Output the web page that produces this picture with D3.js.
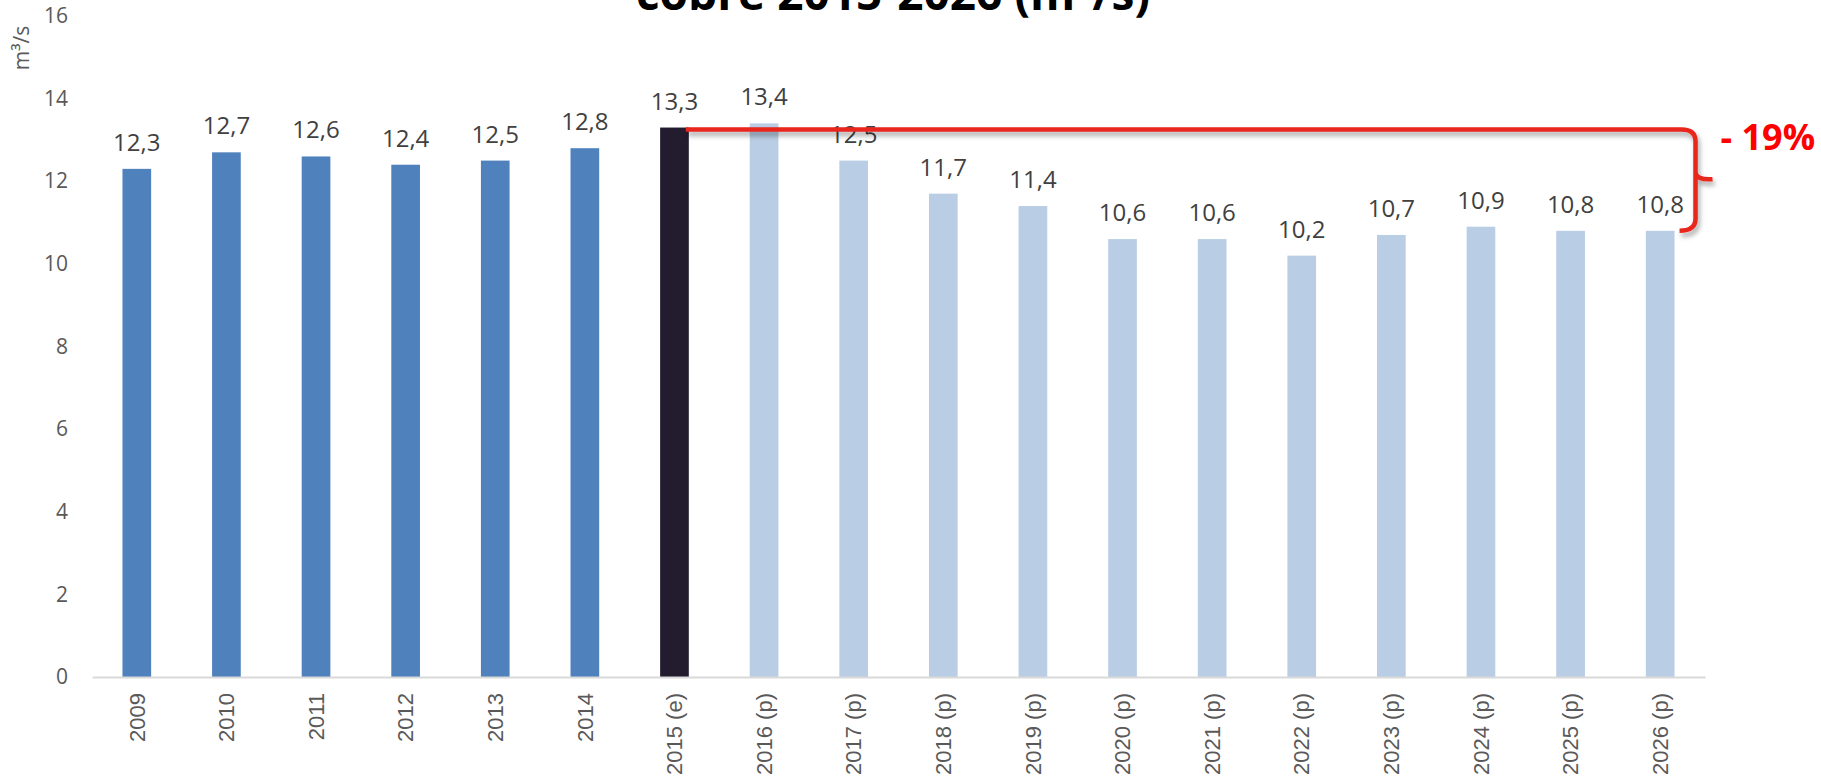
<!DOCTYPE html>
<html>
<head>
<meta charset="utf-8">
<script src="https://cdn.jsdelivr.net/npm/d3@7"></script>
<style>
  html, body { margin: 0; padding: 0; background: #fff; }
  svg { display: block; }
</style>
</head>
<body>
<svg id="chart" width="1821" height="776"></svg>
<script>
// chart data
const categories = ['2009', '2010', '2011', '2012', '2013', '2014', '2015 (e)',
  '2016 (p)', '2017 (p)', '2018 (p)', '2019 (p)', '2020 (p)', '2021 (p)',
  '2022 (p)', '2023 (p)', '2024 (p)', '2025 (p)', '2026 (p)']
const values = [12.3, 12.7, 12.6, 12.4, 12.5, 12.8, 13.3, 13.4, 12.5, 11.7,
  11.4, 10.6, 10.6, 10.2, 10.7, 10.9, 10.8, 10.8]
const kinds = ['hist', 'hist', 'hist', 'hist', 'hist', 'hist', 'est',
  'proj', 'proj', 'proj', 'proj', 'proj', 'proj', 'proj', 'proj', 'proj', 'proj', 'proj']
const yTicks = [0, 2, 4, 6, 8, 10, 12, 14, 16]
const titleText = 'cobre 2015-2026 (m³/s)'
const yLabel = 'm³/s'

const colors = { hist: '#4F81BD', est: '#231B2E', proj: '#B9CDE5' }
const rows = categories.map((c, i) => ({ cat: c, value: values[i], kind: kinds[i] }))

const svg = d3.select('#chart')
const fmt = d3.formatLocale({ decimal: ',', thousands: '.', grouping: [3], currency: ['', ''] }).format('.1f')

const x = d3.scaleBand()
  .domain(categories)
  .range([92, 1705])
  .paddingInner(0.68)
  .paddingOuter(0.34)

const y = d3.scaleLinear()
  .domain([0, 16])
  .range([677, 16])

// shadow for the red bracket
const defs = svg.append('defs')
const f = defs.append('filter').attr('id', 'shadow')
  .attr('x', '-5%').attr('y', '-50%').attr('width', '110%').attr('height', '200%')
f.append('feDropShadow')
  .attr('dx', 2).attr('dy', 4).attr('stdDeviation', 2.5)
  .attr('flood-color', '#000').attr('flood-opacity', 0.35)

// title (only the lower part is inside the picture, as in the original)
svg.append('text')
  .attr('x', 893).attr('y', 10)
  .attr('text-anchor', 'middle')
  .attr('font-family', '"Open Sans", sans-serif')
  .attr('font-weight', 'bold')
  .attr('font-size', 46)
  .attr('fill', '#000')
  .text(titleText)

// y axis
const yAxis = svg.append('g')
  .attr('transform', 'translate(72,0)')
  .call(d3.axisLeft(y).tickValues(yTicks).tickSize(0).tickPadding(4).tickFormat(d3.format('d')))
yAxis.select('.domain').remove()
yAxis.selectAll('text')
  .attr('font-family', '"Open Sans", sans-serif')
  .attr('font-size', 21)
  .attr('fill', '#595959')

svg.append('text')
  .attr('transform', 'translate(22,48) rotate(-90)')
  .attr('text-anchor', 'middle')
  .attr('dy', '0.35em')
  .attr('font-family', '"Open Sans", sans-serif')
  .attr('font-size', 21)
  .attr('fill', '#595959')
  .text(yLabel)

// bars
svg.append('g')
  .selectAll('rect')
  .data(rows)
  .join('rect')
  .attr('x', d => x(d.cat))
  .attr('y', d => y(d.value))
  .attr('width', x.bandwidth())
  .attr('height', d => y(0) - y(d.value))
  .attr('fill', d => colors[d.kind])

// x axis
const xAxis = svg.append('g')
  .attr('transform', `translate(0,${y(0)})`)
  .call(d3.axisBottom(x).tickSize(0).tickSizeOuter(0))
xAxis.select('.domain')
  .attr('stroke', '#D9D9D9')
  .attr('stroke-width', 2)
xAxis.selectAll('text')
  .attr('transform', 'rotate(-90)')
  .attr('x', -16)
  .attr('y', 0)
  .attr('dy', '0.35em')
  .style('text-anchor', 'end')
  .attr('font-family', '"Liberation Sans", Arial, sans-serif')
  .attr('font-size', 22)
  .attr('fill', '#595959')

// data labels
svg.append('g')
  .selectAll('text')
  .data(rows)
  .join('text')
  .attr('x', d => x(d.cat) + x.bandwidth() / 2)
  .attr('y', d => y(d.value) - 18)
  .attr('text-anchor', 'middle')
  .attr('font-family', '"Open Sans", sans-serif')
  .attr('font-size', 24)
  .attr('fill', '#404040')
  .text(d => fmt(d.value))

// red bracket: 2015 (e) vs 2026 (p)
const startRow = rows[6]
const endRow = rows[rows.length - 1]
const x0 = x(startRow.cat) + x.bandwidth() - 3
const xr = x(endRow.cat) + x.bandwidth() + 21
const yt = y(startRow.value) + 2
const yb = y(endRow.value)
const ym = (yt + yb) / 2

const p = d3.path()
p.moveTo(x0, yt)
p.lineTo(xr - 14, yt)
p.quadraticCurveTo(xr, yt, xr, yt + 12)
p.lineTo(xr, ym - 8)
p.quadraticCurveTo(xr, ym, xr + 17, ym - 1)
p.moveTo(xr, ym - 8)
p.quadraticCurveTo(xr, ym, xr, ym + 8)
p.lineTo(xr, yb - 12)
p.quadraticCurveTo(xr, yb, xr - 16, yb)

svg.append('path')
  .attr('d', p.toString())
  .attr('fill', 'none')
  .attr('stroke', '#E8251F')
  .attr('stroke-width', 4.5)
  .attr('stroke-linejoin', 'round')
  .attr('filter', 'url(#shadow)')

const change = Math.round((endRow.value - startRow.value) / startRow.value * 100)
svg.append('text')
  .attr('x', xr + 25)
  .attr('y', ym - 30)
  .attr('font-family', '"Open Sans", sans-serif')
  .attr('font-weight', 'bold')
  .attr('font-size', 36)
  .attr('fill', '#FF0000')
  .text(`- ${Math.abs(change)}%`)
</script>
</body>
</html>
